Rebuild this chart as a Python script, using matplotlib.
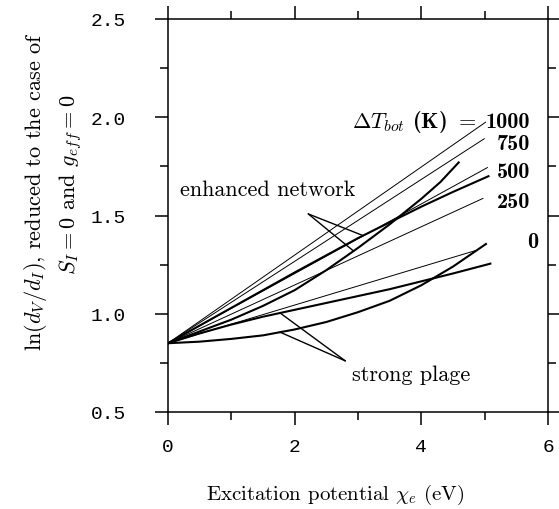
import numpy as np
import matplotlib
matplotlib.use("Agg")
import matplotlib.pyplot as plt
from matplotlib.ticker import MultipleLocator

plt.rcParams['mathtext.fontset'] = 'cm'
plt.rcParams['axes.formatter.use_mathtext'] = True

# ---- data ----
# thin straight lines: Delta T_bot = 1000, 750, 500, 250, 0 K
dT_labels = ["1000", "750", "500", "250", "0"]
dT1000_x = [0.0, 5.02]
dT1000_y = [0.85, 1.976]
dT750_x = [0.0, 5.00]
dT750_y = [0.85, 1.892]
dT500_x = [0.0, 5.05]
dT500_y = [0.85, 1.745]
dT250_x = [0.0, 4.98]
dT250_y = [0.85, 1.588]
dT0_x = [0.0, 4.86]
dT0_y = [0.85, 1.322]

# thick curves: enhanced network
net1_x = [0.0, 0.5, 1.0, 1.5, 2.0, 2.5, 3.0, 3.5, 4.0, 4.3, 4.59]
net1_y = [0.85, 0.91, 0.97, 1.04, 1.12, 1.222, 1.335, 1.455, 1.585, 1.67, 1.77]
net2_x = [0.0, 1.0, 2.0, 3.0, 3.5, 4.0, 4.5, 5.06]
net2_y = [0.85, 1.03, 1.21, 1.385, 1.465, 1.545, 1.62, 1.70]

# thick curves: strong plage
plage1_x = [0.0, 0.5, 1.0, 1.5, 2.0, 2.5, 3.0, 3.5, 4.0, 4.5, 5.09]
plage1_y = [0.85, 0.90, 0.945, 0.985, 1.02, 1.055, 1.09, 1.125, 1.165, 1.205, 1.255]
plage2_x = [0.0, 0.5, 1.0, 1.5, 2.0, 2.5, 3.0, 3.5, 4.0, 4.5, 5.02]
plage2_y = [0.85, 0.858, 0.872, 0.89, 0.92, 0.958, 1.008, 1.066, 1.145, 1.24, 1.355]

# label positions for the Delta T values (y baseline)
dT_label_y = [1.950, 1.838, 1.696, 1.543, 1.34]

fig = plt.figure(figsize=(5.59, 5.10), dpi=100)
ax = fig.add_axes([168/559, 1-413/510, 380/559, 393/510])

thin_lw = 0.7
thick_lw = 1.5
for xs, ys in [(dT1000_x, dT1000_y), (dT750_x, dT750_y), (dT500_x, dT500_y),
               (dT250_x, dT250_y), (dT0_x, dT0_y)]:
    ax.plot(xs, ys, color='black', lw=thin_lw, solid_capstyle='butt')
for xs, ys in [(net1_x, net1_y), (net2_x, net2_y), (plage1_x, plage1_y), (plage2_x, plage2_y)]:
    ax.plot(xs, ys, color='black', lw=thick_lw, solid_joinstyle='round')

ax.set_xlim(0, 6)
ax.set_ylim(0.5, 2.5)
ax.xaxis.set_major_locator(MultipleLocator(2))
ax.xaxis.set_minor_locator(MultipleLocator(1))
ax.yaxis.set_major_locator(MultipleLocator(0.5))
ax.yaxis.set_minor_locator(MultipleLocator(0.25))
ax.tick_params(which='both', direction='out', top=True, right=True, width=1.1, color='black')
ax.tick_params(which='major', length=9.5)
ax.tick_params(which='minor', length=5.8)
ax.tick_params(axis='y', which='major', pad=21)
ax.tick_params(axis='x', which='major', pad=9)
ax.set_xticks([0, 2, 4, 6])
ax.set_xticklabels(["0", "2", "4", "6"])
ax.set_yticks([0.5, 1.0, 1.5, 2.0, 2.5])
ax.set_yticklabels(["0.5", "1.0", "1.5", "2.0", "2.5"])
for lab in ax.get_xticklabels() + ax.get_yticklabels():
    lab.set_fontfamily('Liberation Mono')
    lab.set_fontsize(14)
for sp in ax.spines.values():
    sp.set_linewidth(1.1)

# Delta T labels
ax.text(4.87, dT_label_y[0], r"$\Delta T_{bot}$ (K) $=$", ha='right', va='baseline',
        fontsize=16, family='cmb10')
for lab, yv in zip(dT_labels[:4], dT_label_y[:4]):
    ax.text(5.716, yv, lab, ha='right', va='baseline', fontsize=16, family='cmb10')
ax.text(5.67, dT_label_y[4], dT_labels[4], ha='left', va='baseline', fontsize=16, family='cmb10')

# annotations
ax.text(0.19, 1.604, "enhanced network", ha='left', va='baseline', fontsize=16, family='cmr10')
apex_net = (2.215, 1.508)
for xs, ys, xp in [(net2_x, net2_y, 3.08), (net1_x, net1_y, 2.93)]:
    ax.annotate("", xy=(xp, np.interp(xp, xs, ys)), xytext=apex_net,
                arrowprops=dict(arrowstyle='-', lw=1.0, color='black', shrinkA=0, shrinkB=0))

ax.text(2.905, 0.663, "strong plage", ha='left', va='baseline', fontsize=16, family='cmr10')
apex_pl = (2.80, 0.76)
for xs, ys, xp in [(plage1_x, plage1_y, 1.77), (plage2_x, plage2_y, 1.77)]:
    ax.annotate("", xy=(xp, np.interp(xp, xs, ys)), xytext=apex_pl,
                arrowprops=dict(arrowstyle='-', lw=1.0, color='black', shrinkA=0, shrinkB=0))

# axis labels
fig.text(335/559, 1-495/510, r"Excitation potential $\chi_e$ (eV)", ha='center', va='center',
         fontsize=15, family='cmr10')
fig.text(36/559, 1-192/510, r"$\ln(d_V/d_I)$, reduced to the case of", rotation=90,
         ha='center', va='center', fontsize=16, family='cmr10')
fig.text(71/559, 1-185/510, r"$S_I = 0$ and $g_{eff} = 0$", rotation=90,
         ha='center', va='center', fontsize=16, family='cmr10')

fig.savefig("out.png", dpi=100)
